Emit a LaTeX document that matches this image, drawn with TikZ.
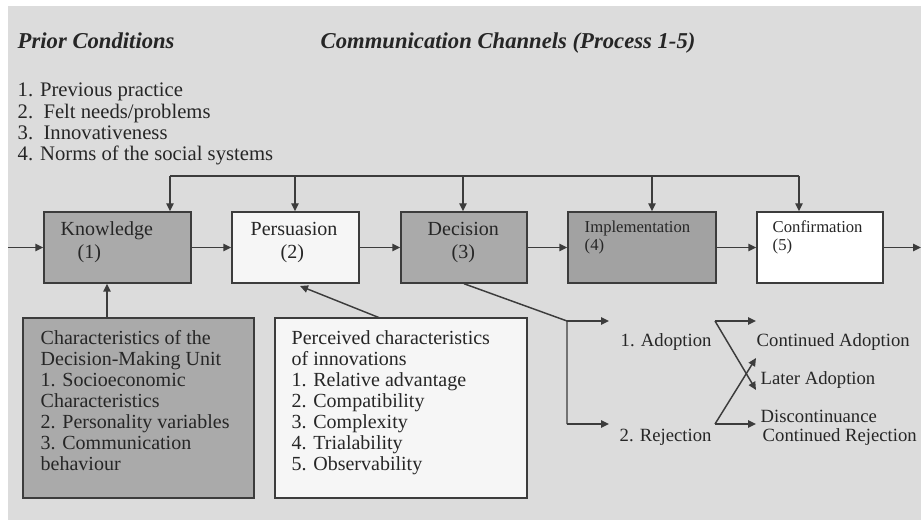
\documentclass[tikz,border=0pt]{standalone}
\usepackage{fontspec}
\setmainfont{Liberation Serif}
\usepackage{xcolor}
\usetikzlibrary{arrows.meta, positioning}

\definecolor{bggray}{HTML}{DCDCDC}
\definecolor{boxgray}{HTML}{AAAAAA}
\definecolor{boxwhite}{HTML}{F6F6F6}
\definecolor{inkgray}{HTML}{262626}
\definecolor{edgegray}{HTML}{3C3C3C}

\tikzset{
    box/.style={draw=edgegray, line width=1.1pt, inner sep=0pt, minimum height=53.25pt},
    graybox/.style={box, fill=boxgray},
    whitebox/.style={box, fill=boxwhite},
    txt/.style={anchor=base west, inner sep=0pt, text=inkgray, font=\fontsize{15}{15.75}\selectfont},
    smalltxt/.style={txt, font=\fontsize{12.5}{14}\selectfont},
    branchtxt/.style={txt, font=\fontsize{14}{14.5}\selectfont},
    listtxt/.style={anchor=north west, inner sep=0pt, align=left, text=inkgray,
        font=\fontsize{15}{15.75}\selectfont},
    title/.style={anchor=base west, inner sep=0pt, text=inkgray,
        font=\fontsize{17}{18}\selectfont\bfseries\itshape}
}

\begin{document}
\begin{tikzpicture}[x=0.75pt, y=-0.75pt, >={Triangle[length=6pt, width=5.5pt]}, line width=1.1pt, draw=edgegray]
    \useasboundingbox (0,0) rectangle (921,520);
    \fill[bggray] (8,6) rectangle (921,520);

    % Tieu de
    \node[title] (prior) at (17,49) {Prior Conditions};
    \node[title] (chan) at (320,49) {Communication Channels (Process 1-5)};

    % Dieu kien ban dau
    \node[txt, font=\fontsize{15.5}{16}\selectfont] (c1) at (17,97) {1. Previous practice};
    \node[txt, font=\fontsize{15.5}{16}\selectfont] (c2) at (17,119) {2.\ \ Felt needs/problems};
    \node[txt, font=\fontsize{15.5}{16}\selectfont] (c3) at (17,140) {3.\ \ Innovativeness};
    \node[txt, font=\fontsize{15.5}{16}\selectfont] (c4) at (17,161) {4. Norms of the social systems};

    % Nam giai doan
    \node[graybox, minimum width=110.25pt] (know) at (117.5,247.5) {};
    \node[whitebox, minimum width=95.25pt] (pers) at (295.5,247.5) {};
    \node[graybox, minimum width=94.5pt] (dec) at (464,247.5) {};
    \node[graybox, minimum width=111pt, fill=boxgray!95!black] (impl) at (642,247.5) {};
    \node[whitebox, minimum width=94.5pt, fill=white] (conf) at (820,247.5) {};

    \node[txt] (knowt) at (60,236) {Knowledge};
    \node[txt] (known) at (77,259) {(1)};
    \node[txt] (perst) at (250,236) {Persuasion};
    \node[txt] (persn) at (280,259) {(2)};
    \node[txt] (dect) at (427,236) {Decision};
    \node[txt] (decn) at (451,259) {(3)};
    \node[smalltxt] (implt) at (584,233) {Implementation};
    \node[smalltxt] (impln) at (584,251) {(4)};
    \node[smalltxt] (conft) at (772,233) {Confirmation};
    \node[smalltxt] (confn) at (772,251) {(5)};

    % Mui ten ngang
    \coordinate (in) at (8,247.5);
    \coordinate (out) at (921,247.5);
    \draw[->] (in) -- (know.west);
    \draw[->] (know.east) -- (pers.west);
    \draw[->] (pers.east) -- (dec.west);
    \draw[->] (dec.east) -- (impl.west);
    \draw[->] (impl.east) -- (conf.west);
    \draw[->] (conf.east) -- (out);

    % Kenh truyen thong phia tren
    \coordinate (fb1) at (170,176);
    \coordinate (fb2) at (295,176);
    \coordinate (fb3) at (463,176);
    \coordinate (fb4) at (652,176);
    \coordinate (fb5) at (799,176);
    \draw (fb1) -- (fb5);
    \draw[->] (fb1) -- (fb1 |- know.north);
    \draw[->] (fb2) -- (fb2 |- pers.north);
    \draw[->] (fb3) -- (fb3 |- dec.north);
    \draw[->] (fb4) -- (fb4 |- impl.north);
    \draw[->] (fb5) -- (fb5 |- conf.north);

    % Hai hop ben duoi
    \node[graybox, minimum width=173.25pt, minimum height=135pt] (unit) at (138.5,408) {};
    \node[whitebox, minimum width=189pt, minimum height=135pt] (innov) at (401,408) {};

    \node[listtxt] (unitt) at (40,330) {Characteristics of the\\Decision-Making Unit\\1. Socioeconomic\\
        Characteristics\\2. Personality variables\\3. Communication\\behaviour};
    \node[listtxt] (innovt) at (291,330) {Perceived characteristics\\of innovations\\
        1. Relative advantage\\2. Compatibility\\3. Complexity\\4. Trialability\\5. Observability};

    \coordinate (unitup) at (107,318);
    \coordinate (innovup) at (380,318);
    \draw[->] (unitup) -- (unitup |- know.south);
    \draw[->] (innovup) -- (300,286);

    % Quyet dinh: chap nhan / tu choi
    \coordinate (br) at (567,321);
    \coordinate (brlow) at (567,424);
    \coordinate (adoptin) at (609,321);
    \coordinate (rejin) at (609,424);
    \draw (dec.south) -- (br) -- (brlow);
    \draw[->] (br) -- (adoptin);
    \draw[->] (brlow) -- (rejin);

    \node[branchtxt] (adopt) at (620,346) {1. Adoption};
    \node[branchtxt] (reject) at (619,441) {2. Rejection};

    \coordinate (adoptout) at (715,321);
    \coordinate (rejout) at (715,424);
    \draw[->] (adoptout) -- (756,321);
    \draw[->] (adoptout) -- (756,390);
    \draw[->] (rejout) -- (756,424);
    \draw[->] (rejout) -- (756,358);

    \node[branchtxt] (contad) at (756,346) {Continued Adoption};
    \node[branchtxt] (later) at (760,384) {Later Adoption};
    \node[branchtxt] (discon) at (760,422) {Discontinuance};
    \node[branchtxt] (contrej) at (762,441) {Continued Rejection};
\end{tikzpicture}
\end{document}
